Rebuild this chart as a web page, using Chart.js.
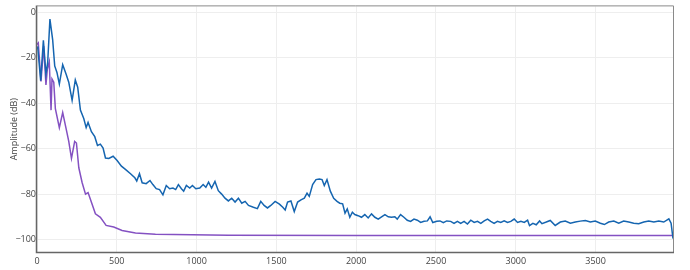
<!DOCTYPE html>
<html>
<head>
<meta charset="utf-8">
<script src="https://cdn.jsdelivr.net/npm/chart.js@4/dist/chart.umd.min.js"></script>
<style>
  body { margin: 0; background: #fff; }
  #wrap { width: 690px; height: 270px; overflow: hidden; }
</style>
</head>
<body>
<div id="wrap"><canvas id="spectrum" width="690" height="270"></canvas></div>
<script>
// spectrum readings (Hz, dB)
const blueFreq = [0, 6, 23, 40, 56, 67, 81, 98, 111, 125, 140, 161, 182, 199, 220, 240, 255, 272, 293, 308,
    320, 341, 362, 379, 397, 414, 429, 450, 477, 502, 529, 554, 586, 613, 625, 642, 659, 684, 708, 726,
    747, 768, 789, 810, 831, 852, 869, 886, 905, 919, 936, 957, 974, 995, 1020, 1041, 1058, 1075, 1094, 1115,
    1136, 1157, 1178, 1199, 1220, 1241, 1262, 1283, 1304, 1325, 1356, 1381, 1402, 1423, 1444, 1465, 1492, 1519, 1540, 1555,
    1570, 1591, 1612, 1633, 1654, 1675, 1692, 1706, 1727, 1748, 1769, 1786, 1800, 1817, 1838, 1859, 1880, 1897, 1915, 1930,
    1944, 1960, 1976, 1991, 2012, 2033, 2054, 2075, 2096, 2117, 2138, 2159, 2180, 2201, 2221, 2242, 2257, 2278, 2299, 2320,
    2341, 2362, 2383, 2404, 2425, 2446, 2463, 2480, 2505, 2525, 2546, 2567, 2592, 2613, 2634, 2655, 2676, 2697, 2718, 2739,
    2760, 2781, 2802, 2823, 2843, 2864, 2885, 2906, 2927, 2948, 2969, 2990, 3011, 3032, 3053, 3074, 3086, 3107, 3128, 3149,
    3164, 3191, 3216, 3247, 3279, 3310, 3342, 3373, 3404, 3436, 3467, 3498, 3530, 3555, 3582, 3614, 3645, 3676, 3708, 3739,
    3770, 3802, 3833, 3865, 3896, 3927, 3959, 3973, 3985];
const blueDb = [-15, -16.3, -30, -12.2, -27.1, -22, -2.9, -11.9, -23.5, -26.4, -31.5, -23, -27.1, -30.7, -38.7, -29.7, -32.9, -43, -46.7, -50.7,
    -48.4, -52.5, -54.7, -58.6, -58, -59.7, -64.1, -64.3, -63.3, -65.2, -67.7, -69.1, -71, -72.8, -74.2, -71, -75, -75.4, -74, -75.8,
    -77.6, -78, -80.3, -76.2, -77.6, -77.3, -78, -75.8, -77.6, -78.7, -76.2, -77.3, -76.2, -77.6, -77.3, -75.8, -77, -74.7, -77.3, -74.4,
    -78.5, -80, -81.8, -83, -81.8, -83.5, -81.8, -84, -83.2, -85, -85.8, -86.4, -83.2, -85, -86.1, -85, -83.2, -84.4, -85.8, -87,
    -83.5, -83, -87.7, -83.5, -82.5, -81.8, -79.6, -81, -75.8, -73.6, -73.3, -73.6, -76.2, -73.6, -78.7, -81.8, -83.2, -84, -84.3, -88.4,
    -86.5, -90.2, -88, -89, -89.5, -90.2, -89, -90.5, -88.7, -90.2, -91, -90, -89, -90, -90.2, -90, -91, -89, -90.2, -91.5,
    -92, -91, -91.5, -92.5, -92, -91.8, -90, -92.5, -92, -91.8, -92.6, -91.8, -92, -92.9, -92, -92.9, -92, -93.2, -91.5, -92.5,
    -92, -92.9, -91.8, -91, -92, -92.9, -92, -92.5, -91.8, -92.5, -92, -91, -92.5, -92, -92.5, -91.5, -93.9, -92.9, -93.5, -91.8,
    -93, -92.3, -91.6, -93.8, -92.3, -91.9, -92.8, -92.3, -91.9, -91.6, -92.3, -91.9, -92.8, -93.4, -92.3, -91.9, -92.8, -91.9, -92.3, -92.8,
    -93, -92.3, -91.9, -92.3, -91.9, -92.3, -90.9, -92.8, -99.6];

const purpleFreq = [0, 8, 25, 42, 56, 65, 77, 88, 94, 105, 115, 140, 161, 182, 199, 216, 236, 247, 262, 283,
    304, 320, 341, 366, 397, 433, 481, 533, 617, 742, 1200, 2000, 3000, 3985];
const purpleDb = [-14.1, -13.4, -30.4, -14.8, -31.9, -24.9, -21.7, -43, -29.3, -30.7, -42.3, -50.7, -44.1, -51, -56.8, -64.3, -56.8, -57.5, -68.4, -75,
    -80, -79.3, -83.6, -88.7, -90.2, -93.8, -94.5, -96, -97.1, -97.7, -98.1, -98.2, -98.2, -98.2];

const xTicks = [0, 500, 1000, 1500, 2000, 2500, 3000, 3500];
const yTicks = [-100, -80, -60, -40, -20, 0];

const toPoints = (xs, ys) => xs.map((x, i) => ({ x: x, y: ys[i] }));
const minusSign = v => (v < 0 ? '\u2212' + Math.abs(v) : String(v));

// plotly style frame round the plot area, darker on the axis sides
const frame = {
    id: 'frame',
    afterDraw(chart) {
        const a = chart.chartArea;
        const ctx = chart.ctx;
        ctx.save();
        ctx.lineWidth = 1;
        ctx.strokeStyle = '#8a8a8a';
        ctx.beginPath();
        ctx.moveTo(a.left, a.top - 0.5);
        ctx.lineTo(a.right + 0.5, a.top - 0.5);
        ctx.lineTo(a.right + 0.5, a.bottom);
        ctx.stroke();
        ctx.strokeStyle = '#666';
        ctx.lineWidth = 1.5;
        ctx.beginPath();
        ctx.moveTo(a.left - 0.5, a.top - 1);
        ctx.lineTo(a.left - 0.5, a.bottom + 0.5);
        ctx.lineTo(a.right + 1, a.bottom + 0.5);
        ctx.stroke();
        ctx.restore();
    }
};

const font = { family: "'Open Sans', sans-serif", size: 9 };

new Chart(document.getElementById('spectrum'), {
    type: 'line',
    data: {
        datasets: [
            {
                label: 'Signal',
                data: toPoints(blueFreq, blueDb),
                borderColor: '#1565b0',
                borderWidth: 1.5,
                pointRadius: 0,
                tension: 0
            },
            {
                label: 'Filtered',
                data: toPoints(purpleFreq, purpleDb),
                borderColor: '#8451c2',
                borderWidth: 1.5,
                pointRadius: 0,
                tension: 0
            }
        ]
    },
    options: {
        responsive: false,
        animation: false,
        devicePixelRatio: 1,
        layout: { padding: { top: 3, right: 17, left: 0, bottom: 0 } },
        plugins: {
            legend: { display: false },
            tooltip: { enabled: false }
        },
        scales: {
            x: {
                type: 'linear',
                min: 0,
                max: 3985,
                afterBuildTicks: s => { s.ticks = xTicks.map(v => ({ value: v })); },
                afterFit: s => { s.height = 18; },
                grid: { color: '#eeeeee', drawTicks: false },
                border: { display: false },
                ticks: { font: font, color: '#444', padding: 4, maxRotation: 0, callback: minusSign }
            },
            y: {
                type: 'linear',
                min: -105.5,
                max: 2.7,
                afterBuildTicks: s => { s.ticks = yTicks.map(v => ({ value: v })); },
                afterFit: s => { s.width = 37; },
                grid: { color: '#eeeeee', drawTicks: false },
                border: { display: false },
                title: { display: true, text: 'Amplitude (dB)', font: font, color: '#444', padding: { top: 9, bottom: 0 } },
                ticks: { font: font, color: '#444', padding: 1, callback: minusSign }
            }
        }
    },
    plugins: [frame]
});
</script>
</body>
</html>
